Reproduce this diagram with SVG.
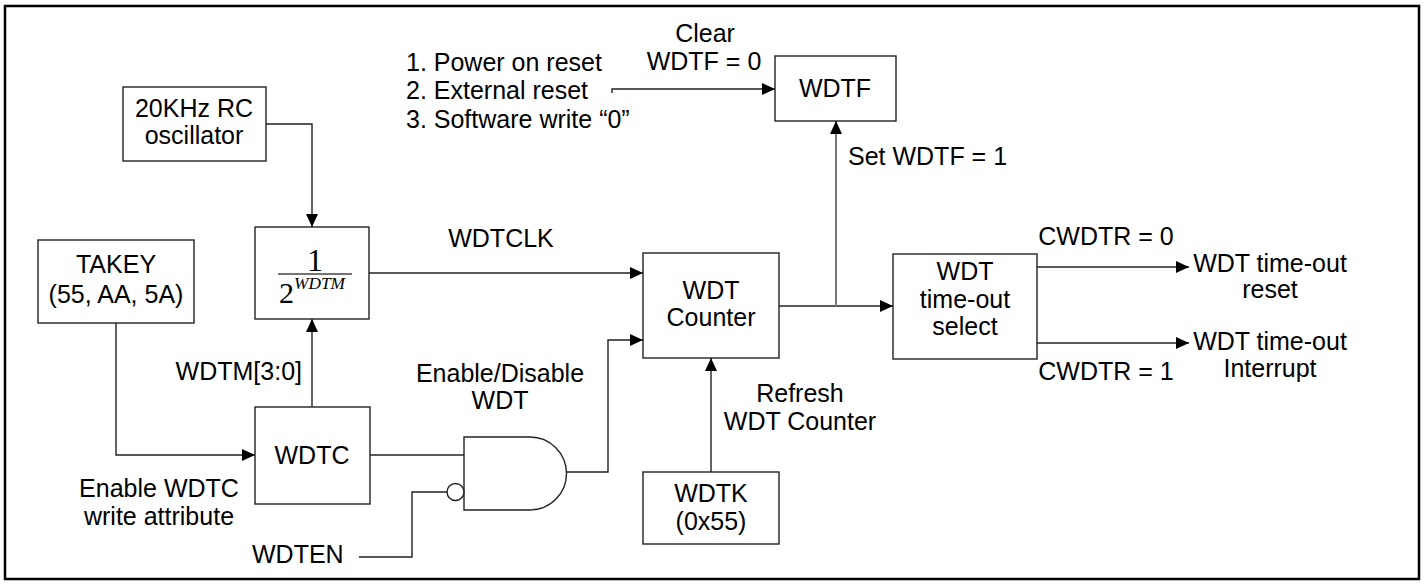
<svg xmlns="http://www.w3.org/2000/svg" width="1424" height="585" viewBox="0 0 1424 585">
<defs>
<marker id="arr" markerUnits="userSpaceOnUse" markerWidth="13" markerHeight="12" refX="13" refY="6" orient="auto">
<path d="M0,0 L13,6 L0,12 Z" fill="#000"/>
</marker>
</defs>
<style>
.box{fill:#fff;stroke:#222;stroke-width:1.4}
.ln{fill:none;stroke:#222;stroke-width:1.4}
.gl{fill:none;stroke:#777;stroke-width:2}
.t{font-family:"Liberation Sans",Arial,sans-serif;font-size:25px;fill:#000}
.c{text-anchor:middle}
.s{font-family:"Liberation Serif","Times New Roman",serif;fill:#000}
</style>
<rect x="5" y="6" width="1414" height="573" fill="#fff" stroke="#000" stroke-width="2.5"/>

<g id="connectors">
<path class="ln" d="M266,124 H312 V227" marker-end="url(#arr)"/>
<path class="ln" d="M312,407 V319" marker-end="url(#arr)"/>
<path class="ln" d="M116,323 V455 H255" marker-end="url(#arr)"/>
<path class="ln" d="M370,455 H464"/>
<path class="ln" d="M359,557 H412 V492 H447"/>
<path class="ln" d="M566,472 H608 V340 H643" marker-end="url(#arr)"/>
<path class="ln" d="M369,273 H643" marker-end="url(#arr)"/>
<path class="ln" d="M612,93 V89 H775" marker-end="url(#arr)"/>
<path class="ln" d="M779,306 H893" marker-end="url(#arr)"/>
<path class="gl" d="M836,306 V121" marker-end="url(#arr)"/>
<path class="ln" d="M711,472 V358" marker-end="url(#arr)"/>
<path class="ln" d="M1037,267 H1189" marker-end="url(#arr)"/>
<path class="ln" d="M1037,343 H1189" marker-end="url(#arr)"/>
</g>

<g id="labels">
<text class="t" x="406" y="71">1. Power on reset</text>
<text class="t" x="406" y="99">2. External reset</text>
<text class="t" x="406" y="128">3. Software write “0”</text>
<text class="t c" x="705" y="42">Clear</text>
<text class="t c" x="704" y="70">WDTF = 0</text>
<text class="t" x="848" y="165">Set WDTF = 1</text>
<text class="t c" x="501" y="247">WDTCLK</text>
<text class="t" x="302" y="380" text-anchor="end">WDTM[3:0]</text>
<text class="t c" x="500" y="382">Enable/Disable</text>
<text class="t c" x="500" y="409">WDT</text>
<text class="t c" x="159" y="497">Enable WDTC</text>
<text class="t c" x="159" y="525">write attribute</text>
<text class="t" x="252" y="563">WDTEN</text>
<text class="t c" x="800" y="402">Refresh</text>
<text class="t c" x="800" y="430">WDT Counter</text>
<text class="t c" x="1106" y="245">CWDTR = 0</text>
<text class="t c" x="1106" y="380">CWDTR = 1</text>
<text class="t c" x="1270" y="272">WDT time-out</text>
<text class="t c" x="1270" y="298">reset</text>
<text class="t c" x="1270" y="350">WDT time-out</text>
<text class="t c" x="1270" y="377">Interrupt</text>
</g>

<g id="rc-osc">
<rect class="box" x="123" y="87" width="143" height="74"/>
<text class="t c" x="194" y="117">20KHz RC</text>
<text class="t c" x="194" y="144">oscillator</text>
</g>

<g id="divider">
<rect class="box" x="255" y="227" width="114" height="92"/>
<text class="s" x="315" y="271" font-size="32" text-anchor="middle">1</text>
<line x1="278" y1="274" x2="352" y2="274" stroke="#444" stroke-width="1.6"/>
<text class="s" x="279" y="303" font-size="30">2</text>
<text class="s" x="294" y="289" font-size="16" font-style="italic" textLength="51" lengthAdjust="spacingAndGlyphs">WDTM</text>
</g>

<g id="takey">
<rect class="box" x="38" y="240" width="156" height="83"/>
<text class="t c" x="116" y="273">TAKEY</text>
<text class="t c" x="116" y="303">(55, AA, 5A)</text>
</g>

<g id="wdtc">
<rect class="box" x="255" y="407" width="115" height="97"/>
<text class="t c" x="312" y="464">WDTC</text>
</g>

<g id="and-gate">
<path class="box" d="M464,437 H530 A36.5,36.5 0 0 1 530,510 H464 Z"/>
<circle class="box" cx="455.5" cy="492" r="8.5"/>
</g>

<g id="wdt-counter">
<rect class="box" x="643" y="253" width="136" height="105"/>
<text class="t c" x="711" y="299">WDT</text>
<text class="t c" x="711" y="326">Counter</text>
</g>

<g id="wdtk">
<rect class="box" x="643" y="472" width="136" height="72"/>
<text class="t c" x="711" y="502">WDTK</text>
<text class="t c" x="711" y="530">(0x55)</text>
</g>

<g id="wdtf">
<rect class="box" x="775" y="56" width="121" height="65"/>
<text class="t c" x="835" y="97">WDTF</text>
</g>

<g id="timeout-select">
<rect class="box" x="893" y="254" width="144" height="105"/>
<text class="t c" x="965" y="280">WDT</text>
<text class="t c" x="965" y="308">time-out</text>
<text class="t c" x="965" y="335">select</text>
</g>
</svg>
